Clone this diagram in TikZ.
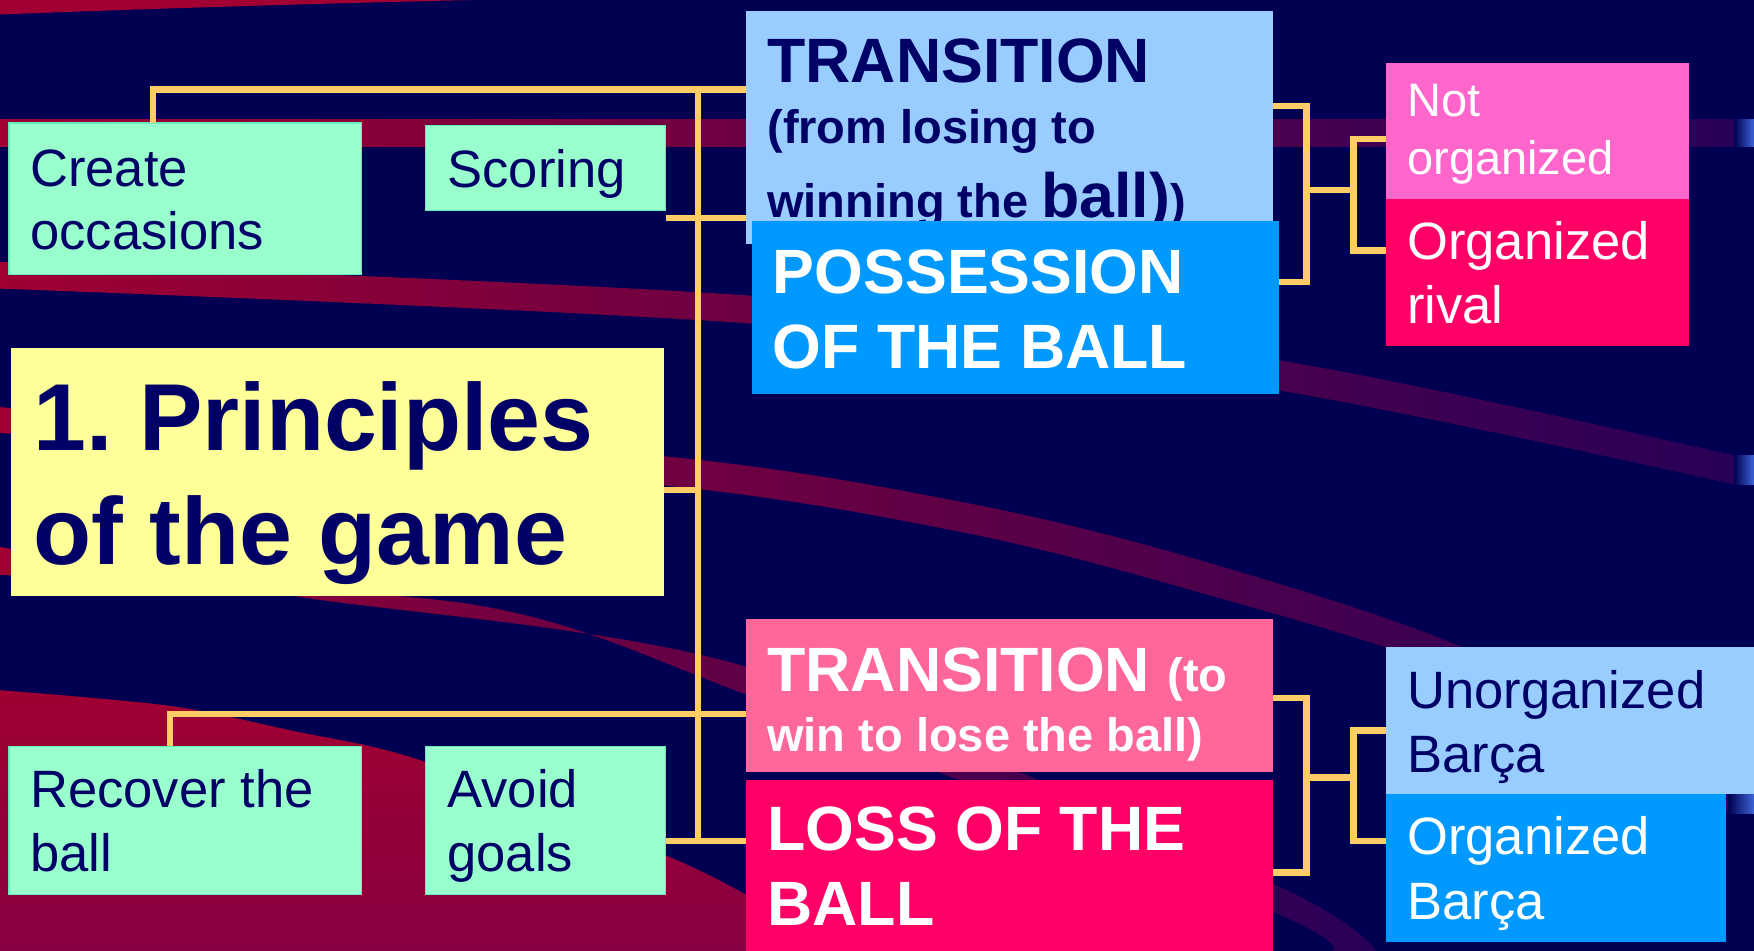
\documentclass[tikz,border=0pt]{standalone}
\usepackage{fontspec}
\setmainfont{Liberation Sans}
\usetikzlibrary{calc}
\definecolor{bgnavy}{RGB}{0,0,82}
\definecolor{txtnavy}{RGB}{0,0,102}
\definecolor{mint}{RGB}{153,255,204}
\definecolor{mintb}{RGB}{102,236,190}
\definecolor{yellowbox}{RGB}{255,255,153}
\definecolor{lightblue}{RGB}{153,204,255}
\definecolor{bluebox}{RGB}{0,153,255}
\definecolor{pinkA}{RGB}{255,102,204}
\definecolor{redbox}{RGB}{255,0,102}
\definecolor{pinkB}{RGB}{255,102,153}
\definecolor{connc}{RGB}{255,204,102}
\definecolor{crimson}{RGB}{160,0,50}
\definecolor{purpleband}{RGB}{40,0,88}
\definecolor{maroon}{RGB}{135,0,65}
\definecolor{edgeblue}{RGB}{60,100,215}
\newcommand{\boxtxt}[5]{\parbox[t][#2pt][t]{#1pt}{\raggedright\frenchspacing\leftskip=#3pt\relax\rule{0pt}{#4pt}#5\par}}
\tikzset{
  box/.style={anchor=north west, inner sep=0pt, outer sep=0pt},
  mintbox/.style={box, fill=mint, draw=mintb, line width=1pt, text=txtnavy},
  conn/.style={draw=connc, line width=5.5pt},
}
\begin{document}
\begin{tikzpicture}[x=1pt,y=-1pt]
\useasboundingbox (0,0) rectangle (1568,850);
% background
\fill[bgnavy] (0,0) rectangle (1568,850);
\fill[crimson] (0,0) -- (422,0) .. controls (250,4) and (100,9) .. (0,13) -- cycle;
\shade[left color=crimson, right color=purpleband] (0,107) rectangle (1550,131);
\shade[left color=bgnavy, right color=edgeblue] (1550,107) rectangle (1568,131);
\shade[left color=crimson, right color=purpleband] plot[smooth] coordinates {(0,234) (680,265) (1143,322) (1550,407)} -- plot[smooth] coordinates {(1550,433) (1143,349) (680,290) (0,258)} -- cycle;
\shade[left color=bgnavy, right color=edgeblue] (1550,407) rectangle (1568,433);
\shade[left color=crimson, right color=purpleband] plot[smooth] coordinates {(0,364) (595,408) (866,450) (1063,498) (1306,578) (1545,703)} -- plot[smooth] coordinates {(1545,727) (1306,603) (1063,527) (866,477) (595,434) (0,387)} -- cycle;
\shade[left color=bgnavy, right color=edgeblue] (1545,709) rectangle (1568,727);
\shade[left color=crimson, right color=purpleband] plot[smooth] coordinates {(0,489) (264,533) (667,596) (1138,790) (1230,850)} -- plot[smooth] coordinates {(1190,850) (1138,815) (667,621) (420,540) (0,514)} -- cycle;
\shade[top color=crimson, bottom color=maroon] plot[smooth] coordinates {(0,617) (152,631) (260,653) (377,680) (596,765) (667,800)} -- (667,850) -- (0,850) -- cycle;
% left boxes
\node[mintbox] (create) at (8,110) {\boxtxt{315}{135}{19}{57}{\fontsize{47}{56}\selectfont Create\\occasions}};
\node[mintbox] (scoring) at (380,112) {\boxtxt{215}{76}{20}{56}{\fontsize{47}{56}\selectfont Scoring}};
\node[box, fill=yellowbox, text=txtnavy] (title) at (10,311) {\boxtxt{584}{222}{20}{92}{\fontsize{85}{102}\selectfont\bfseries 1. Principles\\of the game}};
\node[mintbox] (recover) at (8,667) {\boxtxt{315}{133}{19}{55}{\fontsize{47}{57}\selectfont Recover the\\ball}};
\node[mintbox] (avoid) at (380,667) {\boxtxt{215}{133}{20}{55}{\fontsize{47}{57}\selectfont Avoid\\goals}};
% middle boxes
\node[box, fill=lightblue, text=txtnavy] (transW) at (667,10) {\boxtxt{471}{208}{19}{64}{\bfseries\fontsize{56}{54}\selectfont TRANSITION\\\fontsize{42}{54}\selectfont (from losing to\\[12pt]winning the {\fontsize{56}{54}\selectfont ball)})}};
\node[box, fill=bluebox, text=white] (poss) at (672,198) {\boxtxt{471}{154}{19}{64}{\bfseries\fontsize{56}{67}\selectfont POSSESSION\\OF THE BALL}};
\node[box, fill=pinkB, text=white] (transL) at (667,553) {\boxtxt{471}{137}{19}{65}{\bfseries\fontsize{56}{54}\selectfont TRANSITION {\fontsize{42}{54}\selectfont (to}\\\fontsize{42}{54}\selectfont win to lose the ball)}};
\node[box, fill=redbox, text=white] (loss) at (667,697) {\boxtxt{471}{153}{19}{63}{\bfseries\fontsize{56}{67}\selectfont LOSS OF THE\\BALL}};
% right boxes
\node[box, fill=pinkA, text=white] (notorg) at (1239,56) {\boxtxt{271}{122}{19}{48}{\fontsize{42}{52}\selectfont Not\\organized}};
\node[box, fill=redbox, text=white] (orgrival) at (1239,178) {\boxtxt{271}{131}{19}{54}{\fontsize{47}{57}\selectfont Organized\\rival}};
\node[box, fill=lightblue, text=txtnavy] (unorgB) at (1239,578) {\boxtxt{329}{132}{19}{55}{\fontsize{47}{58}\selectfont Unorganized\\Barça}};
\node[box, fill=bluebox, text=white] (orgB) at (1239,710) {\boxtxt{304}{132}{19}{54}{\fontsize{47}{58}\selectfont Organized\\Barça}};
% junction coordinates
\coordinate (tr) at (624,80);
\coordinate (tb) at (624,752);
\coordinate (bw1) at (1168,95);
\coordinate (bw2) at (1168,252);
\coordinate (bwm) at (1168,170);
\coordinate (iw1) at (1210,124);
\coordinate (iw2) at (1210,224);
\coordinate (bl1) at (1168,624);
\coordinate (bl2) at (1168,780);
\coordinate (blm) at (1168,695);
\coordinate (il1) at (1210,653);
\coordinate (il2) at (1210,752);
% connectors
\draw[conn] ([xshift=129pt]create.north west) |- (transW.west |- tr);
\draw[conn] (tr) -- (tb);
\draw[conn] (scoring.east |- 0,195) -- (transW.west |- 0,195);
\draw[conn] (title.east |- 0,438) -- (tr |- 0,438);
\draw[conn] ([xshift=144pt]recover.north west) |- (transL.west |- 0,638);
\draw[conn] (avoid.east |- tb) -- (loss.west |- tb);
\draw[conn] (transW.east |- bw1) -- (bw1) -- (bw2) -- (poss.east |- bw2);
\draw[conn] (bwm) -- (iw1 |- bwm);
\draw[conn] (notorg.west |- iw1) -- (iw1) -- (iw2) -- (orgrival.west |- iw2);
\draw[conn] (transL.east |- bl1) -- (bl1) -- (bl2) -- (loss.east |- bl2);
\draw[conn] (blm) -- (il1 |- blm);
\draw[conn] (unorgB.west |- il1) -- (il1) -- (il2) -- (orgB.west |- il2);
\end{tikzpicture}
\end{document}
